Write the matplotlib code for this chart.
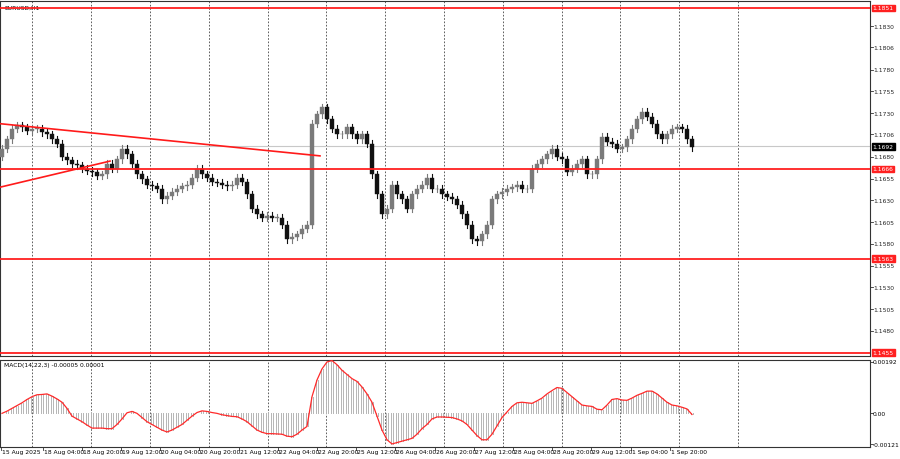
import matplotlib
matplotlib.use("Agg")
import matplotlib.pyplot as plt
from matplotlib.patches import Rectangle

closes = [1.1689,1.1700,1.1712,1.1716,1.1714,1.1710,1.1712,1.1712,1.1708,1.1706,
          1.1700,1.1695,1.1680,1.1676,1.1672,1.1670,1.1666,1.1664,1.1662,1.1658,
          1.1660,1.1672,1.1666,1.1677,1.1689,1.1683,1.1672,1.1660,1.1654,1.1648,
          1.1646,1.1643,1.1631,1.1635,1.1640,1.1643,1.1646,1.1648,1.1656,1.1666,
          1.1660,1.1656,1.1651,1.1650,1.1648,1.1646,1.1648,1.1656,1.1651,1.1637,
          1.1620,1.1614,1.1610,1.1612,1.1610,1.1610,1.1602,1.1585,1.1588,1.1591,
          1.1597,1.1602,
          1.1718,1.1729,1.1737,1.1723,1.1712,1.1706,1.1706,1.1714,1.1706,1.1700,
          1.1706,1.1695,1.1660,1.1637,1.1614,1.1620,1.1648,1.1637,1.1631,1.1620,
          1.1637,1.1643,1.1648,1.1656,1.1643,1.1643,1.1637,1.1634,1.1631,1.1625,
          1.1614,1.1602,1.1585,1.1583,1.1591,1.1602,1.1631,1.1637,1.1640,1.1643,
          1.1645,1.1648,1.1643,1.1643,1.1666,1.1672,1.1677,1.1683,1.1689,1.1680,
          1.1677,1.1663,1.1666,1.1672,1.1677,1.1660,1.1660,1.1677,1.1703,1.1697,
          1.1695,1.1689,1.1691,1.1700,1.1712,1.1723,1.1732,1.1726,1.1718,1.1706,
          1.1700,1.1706,1.1712,1.1714,1.1712,1.1700,1.1691]
first_open = 1.1680

macd_e5 = [0,8,18,28,38,50,60,67,68,70,62,52,40,18,-10,-20,-30,-42,-53,-53,
           -53,-55,-55,-40,-20,2,7,0,-15,-30,-40,-50,-60,-67,-60,-50,-40,-25,-10,3,
           9,7,3,0,-5,-8,-11,-12,-20,-30,-45,-60,-68,-73,-73,-74,-75,-82,-84,-75,
           -60,-47,
           60,120,160,185,190,175,155,140,125,115,95,70,40,-10,-60,-95,-110,-105,-100,-95,
           -90,-75,-55,-40,-20,-13,-13,-14,-15,-20,-27,-40,-60,-80,-95,-95,-75,-45,-15,5,
           25,38,40,38,36,45,55,70,82,93,90,75,60,45,30,27,25,15,13,30,
           50,53,48,47,55,65,72,80,80,70,55,40,30,27,22,16,-4]

levels = [1.1851, 1.1666, 1.1563, 1.1455]
current_price = 1.1692
price_ticks = [1.1855,1.1830,1.1806,1.1780,1.1755,1.1730,1.1706,1.1680,1.1655,
               1.1630,1.1605,1.1580,1.1555,1.1530,1.1505,1.1480]
time_labels = ["15 Aug 2025","18 Aug 04:00","18 Aug 20:00","19 Aug 12:00","20 Aug 04:00",
               "20 Aug 20:00","21 Aug 12:00","22 Aug 04:00","22 Aug 20:00","25 Aug 12:00",
               "26 Aug 04:00","26 Aug 20:00","27 Aug 12:00","28 Aug 04:00","28 Aug 20:00",
               "29 Aug 12:00","1 Sep 04:00","1 Sep 20:00"]
label_hours = [0,17,33,49,65,81,97,113,129,145,161,177,193,209,225,241,257,273]
day_hours = [13+24*k for k in range(13)]
down_trend = [(0, 1.1718), (64, 1.1681)]
up_trend = [(0, 1.1645), (22, 1.1675)]

PX_PER_BAR = 5.0
PX_PER_HOUR = 2.45
FS = 4.3
W, H = 900, 460
fig = plt.figure(figsize=(9, 4.6), dpi=100)
fig.patch.set_facecolor("white")
ax = fig.add_axes([0/W, 1-357/H, 870/W, 355/H])
ax2 = fig.add_axes([0/W, 1-448/H, 870/W, 87/H])
ymin, ymax = 1.1451, 1.1859
for a in (ax, ax2):
    a.set_xlim(0, 870)
    a.set_xticks([]); a.set_yticks([])
    for s in a.spines.values():
        s.set_linewidth(0.8); s.set_color("#333333")
    for hh in day_hours:
        a.axvline(hh*PX_PER_HOUR + 0.5, color="#444444", lw=0.6, ls=(0, (2, 2)), zorder=0)
ax.set_ylim(ymin, ymax)

n = min(len(closes), len(macd_e5))
prev = first_open
for i in range(n):
    c = closes[i]; o = prev
    x = PX_PER_BAR*i + 2
    hi = max(o, c) + 0.0004; lo = min(o, c) - 0.0004
    col = "#7a7a7a" if c >= o else "#111111"
    ax.plot([x, x], [lo, hi], color=col, lw=0.8, zorder=3)
    ax.add_patch(Rectangle((x-1.6, min(o, c)), 3.2, max(abs(c-o), 0.00005),
                           facecolor=col, edgecolor=col, lw=0.3, zorder=4))
    prev = c

for p in levels:
    ax.axhline(p, color="#ff2020", lw=1.3, zorder=5)
ax.axhline(current_price, color="#c8c8c8", lw=0.8, zorder=1)
for tl in (down_trend, up_trend):
    ax.plot([PX_PER_BAR*tl[0][0], PX_PER_BAR*tl[1][0]], [tl[0][1], tl[1][1]],
            color="#ff1a1a", lw=1.2, zorder=6)

ax.text(4, ymax-0.0004, "EURUSD,H1", fontsize=FS, va="top", ha="left")
for t in price_ticks:
    if t == 1.1855:
        continue
    ax.text(1.004, (t-ymin)/(ymax-ymin), "%.4f" % t, transform=ax.transAxes,
            fontsize=FS, va="center", ha="left", color="#222222")
    ax.plot([870, 873], [t, t], color="#333333", lw=0.6, clip_on=False)
for p, fc in [(l, "#ff2020") for l in levels] + [(current_price, "#000000")]:
    ax.text(1.003, (p-ymin)/(ymax-ymin), "%.4f" % p, transform=ax.transAxes, fontsize=FS,
            va="center", ha="left", color="white",
            bbox=dict(boxstyle="square,pad=0.15", fc=fc, ec=fc), zorder=10)

mvals = [v*1e-5 for v in macd_e5[:n]]
xs = [PX_PER_BAR*i + 2 for i in range(n)]
ax2.set_ylim(-0.00121, 0.00192)
for i in range(n):
    xi = xs[i]
    for dx in (-1.2, 1.2):
        ax2.plot([xi+dx, xi+dx], [0, mvals[i]], color="#b5b5b5", lw=0.7, zorder=2)
ax2.plot(xs, mvals, color="#ff2a2a", lw=0.9, zorder=3)
ax2.text(4, 0.00185, "MACD(14,22,3) -0.00005 0.00001", fontsize=FS, va="top", ha="left")
for v, s in [(0.00185, "0.00192"), (0.0, "0.00"), (-0.00112, "-0.00121")]:
    ax2.text(1.003, (v+0.00121)/(0.00313), s, transform=ax2.transAxes, fontsize=FS,
             va="center", ha="left")
    ax2.plot([870, 873], [v, v], color="#333333", lw=0.6, clip_on=False)
for hh, lab in zip(label_hours, time_labels):
    xp = hh*PX_PER_HOUR
    ax2.plot([xp+1, xp+1], [-0.00121, -0.00121-0.00012], color="#333333", lw=0.6, clip_on=False)
    ax2.text(xp+2, -0.00121-0.00008, lab, fontsize=FS, va="top", ha="left")

fig.savefig("out.png", dpi=100, facecolor="white")
